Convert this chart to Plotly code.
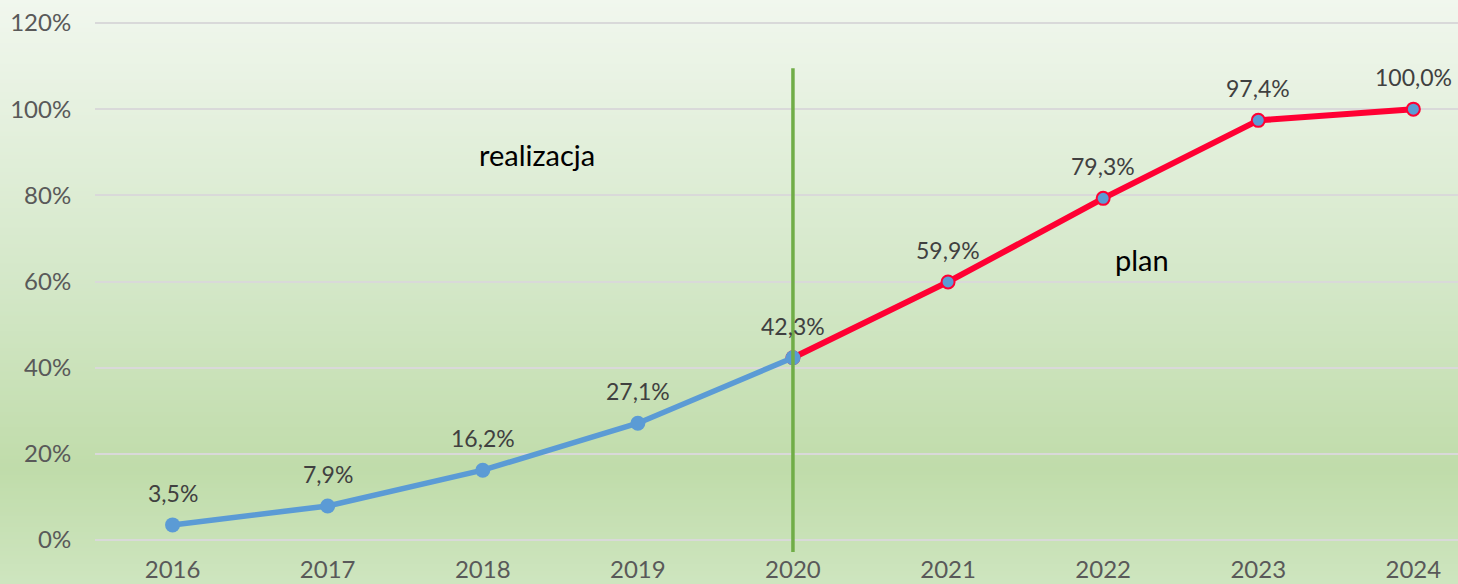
import plotly.graph_objects as go

years = ["2016", "2017", "2018", "2019", "2020", "2021", "2022", "2023", "2024"]
realizacja_years = ["2016", "2017", "2018", "2019", "2020"]
realizacja_values = [3.5, 7.9, 16.2, 27.1, 42.3]
plan_years = ["2020", "2021", "2022", "2023", "2024"]
plan_values = [42.3, 59.9, 79.3, 97.4, 100.0]
y_ticks = [0, 20, 40, 60, 80, 100, 120]
y_tick_labels = ["0%", "20%", "40%", "60%", "80%", "100%", "120%"]


def fmt(v):
    return f"{v:.1f}".replace(".", ",") + "%"


W, H = 1458, 584
top_px, bot_px = 14, 553
left_px = 95

fig = go.Figure()

fig.add_trace(go.Scatter(
    x=[years.index(y) for y in plan_years], y=plan_values,
    mode="lines+markers",
    line=dict(color="#ff0033", width=6),
    marker=dict(size=13, color="#5b9bd5", line=dict(color="#ff0033", width=2)),
    hoverinfo="skip", showlegend=False,
))
fig.add_trace(go.Scatter(
    x=[years.index(y) for y in realizacja_years], y=realizacja_values,
    mode="lines+markers",
    line=dict(color="#5b9bd5", width=5.5),
    marker=dict(size=15, color="#5b9bd5"),
    hoverinfo="skip", showlegend=False,
))

# data labels
label_years = realizacja_years + plan_years[1:]
label_vals = realizacja_values + plan_values[1:]
annotations = []
for yr, v in zip(label_years, label_vals):
    annotations.append(dict(x=years.index(yr), y=v, xref="x", yref="y", text=fmt(v),
                            showarrow=False, yshift=32,
                            font=dict(family="Lato", size=23, color="#404040")))

annotations += [
    dict(x=2.35, y=89.5, xref="x", yref="y", text="realizacja", showarrow=False,
         font=dict(family="Lato", size=29, color="#000000")),
    dict(x=6.25, y=65, xref="x", yref="y", text="plan", showarrow=False,
         font=dict(family="Lato", size=29, color="#000000")),
]

# gradient background via strips
def lerp(c1, c2, t):
    return tuple(int(round(a + (b - a) * t)) for a, b in zip(c1, c2))

stops = [(0, (241, 247, 238)), (290, (211, 231, 199)), (470, (192, 220, 170)), (584, (206, 229, 191))]
shapes = []
n = 146
for i in range(n):
    p0 = H * i / n
    p1 = H * (i + 1) / n
    pm = (p0 + p1) / 2
    for (a, ca), (b, cb) in zip(stops[:-1], stops[1:]):
        if a <= pm <= b:
            c = lerp(ca, cb, (pm - a) / (b - a))
            break
    y0 = (bot_px - p1) / (bot_px - top_px)
    y1 = (bot_px - p0) / (bot_px - top_px)
    shapes.append(dict(type="rect", xref="paper", yref="paper",
                       x0=-left_px / (W - left_px) - 0.01, x1=1.01, y0=y0, y1=y1 + 0.001,
                       fillcolor="rgb(%d,%d,%d)" % c, line=dict(width=0), layer="below"))

# vertical divider at 2020
shapes.append(dict(type="line", xref="x", yref="y",
                   x0=years.index("2020"), x1=years.index("2020"), y0=-2.8, y1=109.5,
                   line=dict(color="#70ad47", width=3.5), layer="above"))

fig.update_layout(
    width=W, height=H,
    margin=dict(l=left_px, r=0, t=top_px, b=H - bot_px),
    paper_bgcolor="#d8ebcc", plot_bgcolor="rgba(0,0,0,0)",
    shapes=shapes,
    annotations=annotations,
    xaxis=dict(range=[-0.5, (W - left_px) / 155.1 - 0.5], tickvals=list(range(len(years))),
               ticktext=years, showgrid=False, zeroline=False, showline=False,
               tickfont=dict(family="Lato", size=24, color="#595959"), ticks="",
               ticklen=0, automargin=False),
    yaxis=dict(range=[-3.02, 122.09], tickvals=y_ticks, ticktext=y_tick_labels,
               showgrid=True, gridcolor="#d9d9d9", gridwidth=2, zeroline=False, showline=False,
               tickfont=dict(family="Lato", size=24, color="#595959"), ticks="outside",
               ticklen=18, tickcolor="rgba(0,0,0,0)", automargin=False),
)

fig.write_html("out.html", config={"displayModeBar": False},
               post_script="document.body.style.margin='0';document.body.style.overflow='hidden';")
